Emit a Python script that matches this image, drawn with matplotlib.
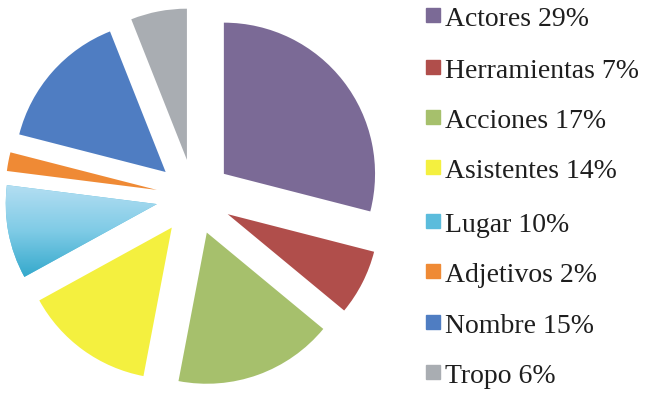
import numpy as np
import matplotlib.pyplot as plt
from matplotlib.patches import Rectangle
from matplotlib.colors import LinearSegmentedColormap

categories = ["Actores", "Herramientas", "Acciones", "Asistentes",
              "Lugar", "Adjetivos", "Nombre", "Tropo"]
shares = [29, 7, 17, 14, 10, 2, 15, 6]
colors = ["#7b6a96", "#b04e4b", "#a6c06c", "#f4f03f",
          "#5bbcdc", "#ef8a35", "#4f7dc2", "#a9adb2"]

LIM = 1.27

fig = plt.figure(figsize=(6.46, 3.93), dpi=100)
ax = fig.add_axes([2 / 646, 4 / 393, 384 / 646, 384 / 393])
wedges, _ = ax.pie(shares, colors=colors, startangle=90, counterclock=False,
                   explode=[0.25] * len(shares), radius=1.0,
                   wedgeprops=dict(linewidth=0))
ax.set_xlim(-LIM, LIM)
ax.set_ylim(-LIM, LIM)
ax.set_aspect("equal")
ax.axis("off")

# the "Lugar" slice fades from pale blue at the top to cyan at the bottom
lugar = wedges[categories.index("Lugar")]
grad = LinearSegmentedColormap.from_list("lugar", ["#35a9cc", "#7fcbe6", "#b3def2"])
x0, y0, x1, y1 = lugar.get_path().get_extents(lugar.get_transform()).transformed(
    ax.transData.inverted()).extents
img = ax.imshow(np.linspace(0, 1, 100).reshape(-1, 1), cmap=grad, origin="lower",
                extent=(x0, x1, y0, y1), aspect="auto", zorder=lugar.get_zorder() + 0.1)
img.set_clip_path(lugar)
ax.set_xlim(-LIM, LIM)
ax.set_ylim(-LIM, LIM)

# legend drawn by hand: square swatch + label per row
baselines = [26, 78, 128, 178, 232, 282, 333, 383]
for name, val, c, yb in zip(categories, shares, colors, baselines):
    fig.patches.append(Rectangle((426 / 646, 1 - (yb - 4) / 393), 14 / 646, 14 / 393,
                                 transform=fig.transFigure, color=c))
    fig.text(445 / 646, 1 - yb / 393, f"{name} {val}%", va="baseline", ha="left",
             fontsize=20, family="Liberation Serif", color="#1e1e1e")

fig.savefig("out.png", dpi=100)
